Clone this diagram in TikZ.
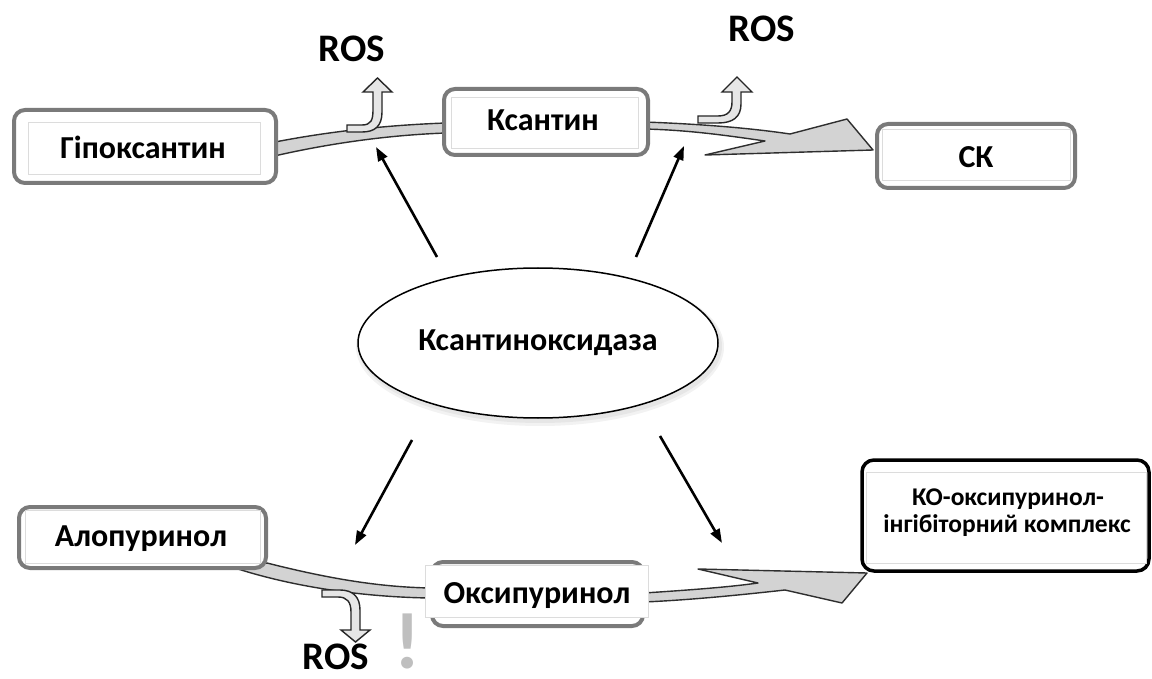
\documentclass[tikz,border=0pt]{standalone}
\usepackage{fontspec}
\setmainfont{Carlito}
\usetikzlibrary{arrows.meta,shapes.geometric}
\definecolor{boxgray}{HTML}{7A7A7A}
\definecolor{bandfill}{HTML}{D3D3D3}
\definecolor{bandline}{HTML}{2E2E2E}
\definecolor{innerline}{HTML}{DCDCDC}
\definecolor{smallfill}{HTML}{E6E6E6}
\begin{document}
\begin{tikzpicture}[x=1pt,y=-1pt,
  lbl/.style={font=\fontsize{32}{38}\selectfont\bfseries, anchor=base, inner sep=0pt},
  kolbl/.style={font=\fontsize{25.5}{30}\selectfont\bfseries, anchor=base, inner sep=0pt},
  ros/.style={font=\fontsize{39}{45}\selectfont\bfseries, anchor=base, inner sep=0pt},
  outerbox/.style={draw=boxgray, line width=4pt, rounded corners=11pt, fill=white, inner sep=0pt},
  innerbox/.style={draw=innerline, line width=0.8pt},
  band/.style={fill=bandfill, draw=bandline, line width=1.4pt, line join=round},
  rosarrow/.style={fill=smallfill, draw=black!85, line width=1.4pt, line join=miter},
  link/.style={line width=2.6pt, -{Triangle[length=14pt,width=10pt]}}
]
\useasboundingbox[fill=white] (0,0) rectangle (1152,679);

% ---------- bands (drawn first, boxes cover their ends) ----------
% Hypoxanthine -> Xanthine
\draw[band] (270,143) .. controls (330,131) and (390,125) .. (446,123)
  -- (446,133) .. controls (390,135) and (330,143) .. (270,157) -- cycle;
% Xanthine -> CK with arrowhead
\draw[band] (644,122) .. controls (700,124) and (750,128) .. (790,134)
  -- (847,119) -- (873,150) -- (705,155) -- (765,141)
  .. controls (730,136) and (690,130) .. (644,129) -- cycle;
% Allopurinol -> Oxypurinol
\draw[band] (267,563) .. controls (330,579) and (380,587) .. (430,588)
  -- (430,598) .. controls (360,597) and (290,586) .. (235,568) -- cycle;
% Oxypurinol -> complex with arrowhead
\draw[band] (644,593) .. controls (690,590) and (730,587) .. (758,583)
  -- (698,569) -- (867,573) -- (842,603) -- (785,590)
  .. controls (740,595) and (690,600) .. (644,602) -- cycle;

% ---------- small ROS arrows ----------
\draw[rosarrow] (347,125) -- (362,125) .. controls (371,125) and (373,120) .. (373,110)
  -- (373,92) -- (363,92) -- (377.5,78) -- (392,92) -- (382,92) -- (382,112)
  .. controls (382,126) and (375,132) .. (362,132) -- (347,132) -- cycle;
\draw[rosarrow] (698,116) -- (718,116) .. controls (728,116) and (732,111) .. (732,102)
  -- (732,92) -- (722,92) -- (737,77) -- (752,92) -- (741,92) -- (741,104)
  .. controls (741,117) and (733,123) .. (718,123) -- (698,123) -- cycle;
\draw[rosarrow] (322,590) -- (340,590) .. controls (353,590) and (360,597) .. (360,610)
  -- (360,630) -- (370,630) -- (355.5,642) -- (341,630) -- (351,630) -- (351,612)
  .. controls (351,602) and (347,597) .. (338,597) -- (322,597) -- cycle;

% ---------- boxes ----------
\node[outerbox, minimum width=262pt, minimum height=73pt] (hypbox) at (145,146.5) {};
\draw[innerbox] (28,122) rectangle (260,174);
\node[lbl] (hyp) at (143,158.5) {Гіпоксантин};

\node[outerbox, minimum width=204pt, minimum height=66pt] (xanbox) at (546,122) {};
\draw[innerbox] (451,97) rectangle (638,148);
\node[lbl] (xan) at (543,131) {Ксантин};

\node[outerbox, minimum width=198pt, minimum height=64pt] (ckbox) at (976,156) {};
\draw[innerbox] (882,129) rectangle (1070,180);
\node[lbl] (ck) at (976,168) {СК};

\node[outerbox, minimum width=247pt, minimum height=61pt] (allobox) at (142.5,537.5) {};
\draw[innerbox] (25,510) rectangle (260,563);
\node[lbl] (allo) at (141,546) {Алопуринол};

\node[outerbox, minimum width=211pt, minimum height=64pt] (oxybox) at (537.5,594) {};
\draw[innerbox, fill=white] (425,565) rectangle (648,617);
\node[lbl] (oxy) at (537,603) {Оксипуринол};

\node[draw=black, line width=3.5pt, rounded corners=12pt, fill=white, inner sep=0pt,
      minimum width=287pt, minimum height=111pt] (kobox) at (1005.5,515.5) {};
\draw[innerbox] (866,472) rectangle (1146,563);
\node[kolbl] (ko1) at (1008,505) {КО-оксипуринол-};
\node[kolbl] (ko2) at (1007,532) {інгібіторний комплекс};

% ---------- enzyme ----------
\fill[gray, opacity=0.10] (540,347) ellipse (184pt and 79pt);
\fill[gray, opacity=0.10] (540,346) ellipse (182pt and 77pt);
\node[draw=black, line width=1.5pt, ellipse, fill=white, inner sep=0pt,
      minimum width=360pt, minimum height=150pt] (xo) at (538,343) {};
\node[lbl] (xotext) at (538,350) {Ксантиноксидаза};

% ---------- ROS labels ----------
\node[ros] (ros1) at (352,62) {ROS};
\node[ros] (ros2) at (762,42) {ROS};
\node[ros] (ros3) at (336,669) {ROS};
\node[font=\fontsize{80}{92}\selectfont\bfseries, text=gray!50, anchor=base, inner sep=0pt] (excl) at (408,668) {!};

% ---------- connectors from the enzyme ----------
\coordinate (a1s) at (437,257); \coordinate (a1e) at (376,147);
\coordinate (a2s) at (636,257); \coordinate (a2e) at (684,146);
\coordinate (a3s) at (412,440); \coordinate (a3e) at (355,545);
\coordinate (a4s) at (660,436); \coordinate (a4e) at (722,543);
\draw[link] (a1s) -- (a1e);
\draw[link] (a2s) -- (a2e);
\draw[link] (a3s) -- (a3e);
\draw[link] (a4s) -- (a4e);
\end{tikzpicture}
\end{document}
